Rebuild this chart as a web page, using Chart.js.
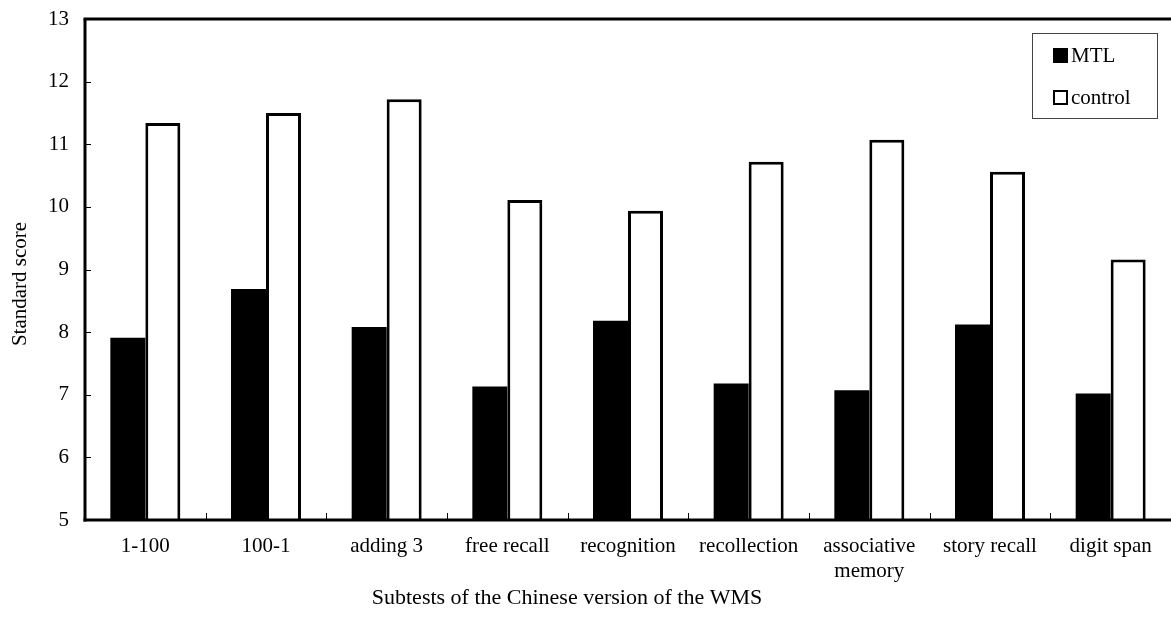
<!DOCTYPE html>
<html>
<head>
<meta charset="utf-8">
<script src="https://cdn.jsdelivr.net/npm/chart.js@4.4.0/dist/chart.umd.min.js"></script>
<style>
  html, body { margin: 0; padding: 0; background: #fff; }
  #wrap { width: 1171px; height: 630px; position: relative; }
</style>
</head>
<body>
<div id="wrap"><canvas id="c"></canvas></div>
<script>
const categories = ['1-100', '100-1', 'adding 3', 'free recall', 'recognition', 'recollection', ['associative', 'memory'], 'story recall', 'digit span'];
const mtlValues = [7.91, 8.69, 8.08, 7.13, 8.18, 7.18, 7.07, 8.12, 7.02];
const controlValues = [11.34, 11.50, 11.72, 10.11, 9.94, 10.72, 11.07, 10.56, 9.16];
const yTickValues = [5, 6, 7, 8, 9, 10, 11, 12, 13];
const seriesNames = ['MTL', 'control'];
const xTitle = 'Subtests of the Chinese version of the WMS';
const yTitle = 'Standard score';

const FONT = "'Liberation Serif', 'Times New Roman', serif";

const framePlugin = {
  id: 'frame',
  afterDatasetsDraw(chart) {
    const { ctx, chartArea: a, scales } = chart;
    const x = scales.x, y = scales.y;
    ctx.save();
    ctx.strokeStyle = '#000';
    ctx.lineWidth = 3;
    ctx.beginPath();
    ctx.moveTo(a.left - 1.5, a.top);
    ctx.lineTo(chart.width, a.top);
    ctx.stroke();
    ctx.beginPath();
    ctx.moveTo(a.left, a.top);
    ctx.lineTo(a.left, a.bottom + 1.5);
    ctx.stroke();
    ctx.beginPath();
    ctx.moveTo(a.left - 1.5, a.bottom);
    ctx.lineTo(chart.width, a.bottom);
    ctx.stroke();
    ctx.lineWidth = 1;
    yTickValues.forEach(v => {
      if (v === yTickValues[0] || v === yTickValues[yTickValues.length - 1]) return;
      const py = Math.round(y.getPixelForValue(v)) + 0.5;
      ctx.beginPath();
      ctx.moveTo(a.left, py);
      ctx.lineTo(a.left + 6, py);
      ctx.stroke();
    });
    for (let i = 1; i < categories.length; i++) {
      const px = Math.round((x.getPixelForValue(i - 1) + x.getPixelForValue(i)) / 2) + 0.5;
      ctx.beginPath();
      ctx.moveTo(px, a.bottom);
      ctx.lineTo(px, a.bottom - 7);
      ctx.stroke();
    }
    ctx.fillStyle = '#000';
    ctx.textAlign = 'center';
    ctx.textBaseline = 'middle';
    ctx.font = '22px ' + FONT;
    ctx.fillText(xTitle, 567, 598);
    ctx.save();
    ctx.translate(20, 284);
    ctx.rotate(-Math.PI / 2);
    ctx.font = '21px ' + FONT;
    ctx.fillText(yTitle, 0, 0);
    ctx.restore();
    ctx.lineWidth = 1;
    ctx.strokeStyle = '#444';
    ctx.strokeRect(1032.5, 33.5, 125, 85);
    ctx.font = '21px ' + FONT;
    ctx.textAlign = 'left';
    chart.data.datasets.forEach((ds, i) => {
      const cy = 55 + i * 42;
      ctx.fillStyle = ds.backgroundColor;
      ctx.fillRect(1053, cy - 7, 15, 15);
      ctx.strokeStyle = '#000';
      ctx.lineWidth = 2;
      ctx.strokeRect(1054, cy - 6, 13, 13);
      ctx.fillStyle = '#000';
      ctx.fillText(ds.label, 1071, cy + 1);
    });
    ctx.restore();
  }
};

new Chart(document.getElementById('c'), {
  type: 'bar',
  data: {
    labels: categories,
    datasets: [
      { label: seriesNames[0], data: mtlValues, backgroundColor: '#000', borderColor: '#000', borderWidth: 0 },
      { label: seriesNames[1], data: controlValues, backgroundColor: '#fff', borderColor: '#000', borderWidth: 3, borderSkipped: 'bottom' }
    ]
  },
  options: {
    responsive: true,
    maintainAspectRatio: false,
    animation: false,
    devicePixelRatio: 1,
    layout: { padding: { top: 19, right: 0, left: 0, bottom: 0 } },
    plugins: { legend: { display: false }, tooltip: { enabled: false } },
    datasets: { bar: { categoryPercentage: 0.58, barPercentage: 1.0 } },
    scales: {
      x: {
        grid: { display: false, drawTicks: false },
        border: { display: false },
        ticks: { color: '#000', font: { family: FONT, size: 21 }, padding: 14, maxRotation: 0, autoSkip: false, lineHeight: 1.2 },
        afterFit(scale) { scale.height = 110; scale.paddingLeft = 0; scale.paddingRight = 0; }
      },
      y: {
        min: 5, max: 13,
        afterBuildTicks(scale) { scale.ticks = yTickValues.map(v => ({ value: v })); },
        grid: { display: false, drawTicks: false },
        border: { display: false },
        ticks: { color: '#000', font: { family: FONT, size: 21 }, padding: 16 },
        afterFit(scale) { scale.width = 85; scale.paddingTop = 0; scale.paddingBottom = 0; }
      }
    }
  },
  plugins: [framePlugin]
});
</script>
</body>
</html>
